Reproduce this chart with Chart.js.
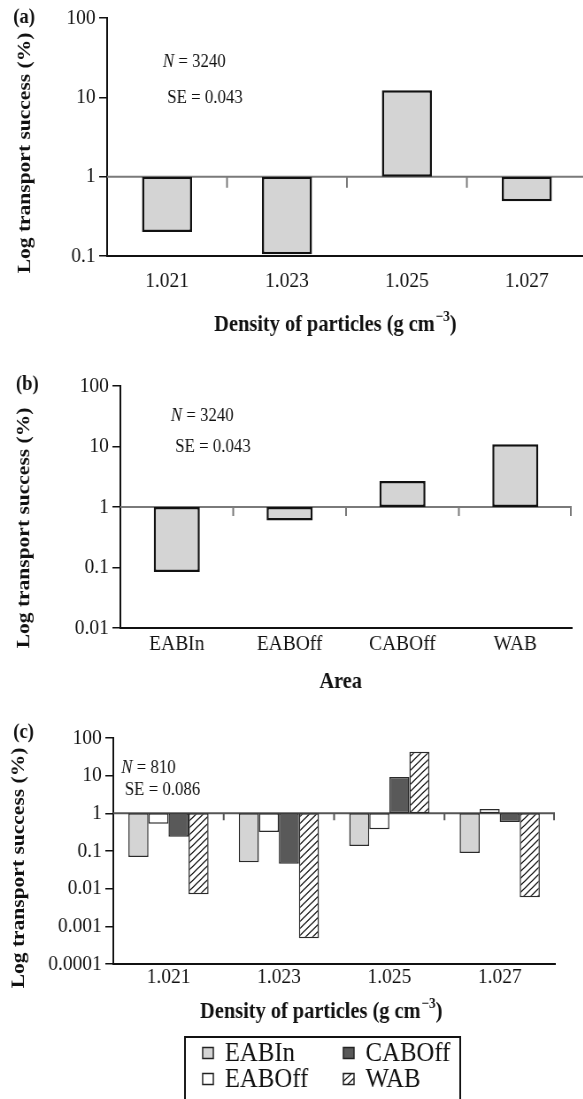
<!DOCTYPE html>
<html>
<head>
<meta charset="utf-8">
<script src="https://cdn.jsdelivr.net/npm/chart.js@4.4.1/dist/chart.umd.min.js"></script>
<style>
  html, body { margin: 0; padding: 0; background: #fff; width: 583px; height: 1099px; overflow: hidden; }
  /* the printed figure is a little narrow, so each panel is squeezed sideways */
  .panel { position: absolute; left: 0; transform: scaleX(0.885); transform-origin: 0 0; }
</style>
</head>
<body>
<div class="panel" style="top:0"><canvas id="chartA" width="680" height="345"></canvas></div>
<div class="panel" style="top:345px"><canvas id="chartB" width="680" height="355"></canvas></div>
<div class="panel" style="top:700px"><canvas id="chartC" width="680" height="399"></canvas></div>
<script>
// Transport success (%) by particle density and by area, drawn from 1 on a log axis
const densities = ['1.021', '1.023', '1.025', '1.027'];
const areas = ['EABIn', 'EABOff', 'CABOff', 'WAB'];

const successByDensity = [0.2, 0.105, 12.3, 0.49];
const successByArea = [0.084, 0.6, 2.7, 10.9];

// panel (c): one series per area, grouped by density
const eabIn = [0.069, 0.05, 0.135, 0.088];
const eabOff = [0.53, 0.32, 0.38, 1.3];
const cabOff = [0.24, 0.046, 9.2, 0.59];
const wab = [0.0071, 0.00048, 43, 0.0059];

const ticksA = [0.1, 1, 10, 100];
const ticksB = [0.01, 0.1, 1, 10, 100];
const ticksC = [0.0001, 0.001, 0.01, 0.1, 1, 10, 100];

const sampleSizes = [3240, 3240, 810];
const standardErrors = ['0.043', '0.043', '0.086'];

const SERIF = '"Liberation Serif", "Times New Roman", serif';
const INK = '#111';

// bars hang from 1, so each one is a floating [1, value] pair
const fromOne = vals => vals.map(v => [1, v]);

function hatch() {
    const c = document.createElement('canvas');
    c.width = 8; c.height = 7;
    const g = c.getContext('2d');
    g.fillStyle = '#fff';
    g.fillRect(0, 0, 8, 7);
    g.strokeStyle = INK;
    g.lineWidth = 1.3;
    g.beginPath();
    for (const k of [-1, 0, 1]) {
        g.moveTo(k * 8 - 1, 7 + 7 / 8);
        g.lineTo(k * 8 + 9, -7 / 8);
    }
    g.stroke();
    return g.createPattern(c, 'repeat');
}

function logAxis(ticks, width) {
    return {
        type: 'logarithmic',
        min: ticks[0],
        max: ticks[ticks.length - 1],
        afterBuildTicks: s => { s.ticks = ticks.map(v => ({ value: v })); },
        afterFit: s => { s.width = width; },
        ticks: { font: { family: SERIF, size: 22 }, color: INK, padding: 4, autoSkip: false, callback: v => String(v) },
        grid: { drawOnChartArea: false, color: INK, lineWidth: 1.5, tickLength: 9 },
        border: { color: INK, width: 2 }
    };
}

function catAxis(height, pad) {
    return {
        type: 'category',
        offset: true,
        afterFit: s => { s.height = height; },
        ticks: { font: { family: SERIF, size: 22, lineHeight: 1 }, color: INK, padding: pad, maxRotation: 0, autoSkip: false },
        grid: { display: true, drawOnChartArea: false, drawTicks: false },
        border: { color: INK, width: 2 }
    };
}

// line at 1 with small marks between the categories
const baseline = {
    id: 'baseline',
    beforeDatasetsDraw(chart, args, o) {
        const { ctx, chartArea, scales: { x, y } } = chart;
        const py = y.getPixelForValue(1);
        const n = x.ticks.length;
        ctx.save();
        ctx.strokeStyle = o.color;
        ctx.lineWidth = 2;
        ctx.beginPath();
        ctx.moveTo(chartArea.left, py);
        ctx.lineTo(chartArea.right, py);
        for (let i = 1; i <= n; i++) {
            const px = i < n ? (x.getPixelForTick(i - 1) + x.getPixelForTick(i)) / 2 : chartArea.right - 1;
            ctx.moveTo(px, py);
            ctx.lineTo(px, py + o.tick);
        }
        ctx.stroke();
        ctx.restore();
    }
};

// panel letter, N / SE note and the two axis titles
const panelText = {
    id: 'panelText',
    afterDraw(chart, args, o) {
        const ctx = chart.ctx;
        ctx.save();
        ctx.fillStyle = INK;
        ctx.textBaseline = 'middle';
        ctx.textAlign = 'left';

        ctx.font = `bold 21px ${SERIF}`;
        ctx.fillText(o.letter, o.letterAt[0], o.letterAt[1]);

        ctx.font = `italic 19px ${SERIF}`;
        ctx.fillText('N', o.nAt[0], o.nAt[1]);
        const nw = ctx.measureText('N').width;
        ctx.font = `19px ${SERIF}`;
        ctx.fillText(' = ' + o.n, o.nAt[0] + nw, o.nAt[1]);
        ctx.fillText('SE = ' + o.se, o.seAt[0], o.seAt[1]);

        // x title, with an optional superscript part
        const [main, sup, tail] = o.xTitle;
        ctx.font = `bold 23px ${SERIF}`;
        const wMain = ctx.measureText(main).width;
        const wTail = tail ? ctx.measureText(tail).width : 0;
        ctx.font = `bold 15px ${SERIF}`;
        const wSup = sup ? ctx.measureText(sup).width + 1 : 0;
        let tx = o.xTitleAt[0] - (wMain + wSup + wTail) / 2;
        const ty = o.xTitleAt[1];
        ctx.font = `bold 23px ${SERIF}`;
        ctx.fillText(main, tx, ty);
        tx += wMain;
        if (sup) {
            ctx.font = `bold 15px ${SERIF}`;
            ctx.fillText(sup, tx + 1, ty - 8);
            tx += wSup;
            ctx.font = `bold 23px ${SERIF}`;
            ctx.fillText(tail, tx, ty);
        }

        ctx.translate(o.yTitleAt[0], o.yTitleAt[1]);
        ctx.rotate(-Math.PI / 2);
        ctx.textAlign = 'center';
        ctx.font = `bold 21.5px ${SERIF}`;
        ctx.fillText('Log transport success (%)', 0, 0);
        ctx.restore();
    }
};

// boxed two-column legend under panel (c)
const boxLegend = {
    id: 'boxLegend',
    afterDraw(chart, args, o) {
        const ctx = chart.ctx;
        ctx.save();
        ctx.strokeStyle = INK;
        ctx.lineWidth = 2;
        ctx.strokeRect(o.left, o.top, o.width, o.height);
        ctx.font = `28px ${SERIF}`;
        ctx.textBaseline = 'middle';
        ctx.textAlign = 'left';
        chart.data.datasets.forEach((ds, i) => {
            const col = Math.floor(i / 2), row = i % 2;
            const x = o.left + o.inset + col * o.colGap;
            const y = o.top + o.rows[row];
            ctx.fillStyle = ds.backgroundColor;
            ctx.fillRect(x, y - 5.5, 12, 11);
            ctx.strokeStyle = '#222';
            ctx.lineWidth = 1.5;
            ctx.strokeRect(x, y - 5.5, 12, 11);
            ctx.fillStyle = INK;
            ctx.fillText(ds.label, x + 25, y + 1);
        });
        ctx.restore();
    }
};

const common = {
    responsive: false,
    animation: false,
    events: [],
    plugins: { legend: { display: false }, tooltip: { enabled: false } }
};

new Chart(document.getElementById('chartA'), {
    type: 'bar',
    data: {
        labels: densities,
        datasets: [{
            data: fromOne(successByDensity),
            backgroundColor: '#d4d4d4',
            borderColor: INK,
            borderWidth: 2.5,
            borderSkipped: false,
            barPercentage: 0.417,
            categoryPercentage: 1
        }]
    },
    options: {
        ...common,
        layout: { padding: { left: 0, right: 17, top: 18, bottom: 0 } },
        scales: { x: catAxis(89, 14), y: logAxis(ticksA, 121) },
        plugins: {
            ...common.plugins,
            baseline: { color: '#7a7a7a', tick: 11 },
            panelText: {
                letter: '(a)', letterAt: [15, 18],
                n: sampleSizes[0], nAt: [184, 62], se: standardErrors[0], seAt: [189, 98],
                xTitle: ['Density of particles (g cm', '\u22123', ')'], xTitleAt: [379, 325],
                yTitleAt: [28, 153]
            }
        }
    },
    plugins: [baseline, panelText]
});

new Chart(document.getElementById('chartB'), {
    type: 'bar',
    data: {
        labels: areas,
        datasets: [{
            data: fromOne(successByArea),
            backgroundColor: '#d4d4d4',
            borderColor: INK,
            borderWidth: 2.5,
            borderSkipped: false,
            barPercentage: 0.408,
            categoryPercentage: 1
        }]
    },
    options: {
        ...common,
        layout: { padding: { left: 0, right: 34, top: 41, bottom: 0 } },
        scales: { x: catAxis(72, 5), y: logAxis(ticksB, 136) },
        plugins: {
            ...common.plugins,
            baseline: { color: '#7a7a7a', tick: 9 },
            panelText: {
                letter: '(b)', letterAt: [18, 40],
                n: sampleSizes[1], nAt: [193, 71], se: standardErrors[1], seAt: [198, 102],
                xTitle: ['Area'], xTitleAt: [385, 337],
                yTitleAt: [27, 183]
            }
        }
    },
    plugins: [baseline, panelText]
});

const wabFill = hatch();

new Chart(document.getElementById('chartC'), {
    type: 'bar',
    data: {
        labels: densities,
        datasets: [
            { label: 'EABIn', data: fromOne(eabIn), backgroundColor: '#d4d4d4' },
            { label: 'EABOff', data: fromOne(eabOff), backgroundColor: '#ffffff' },
            { label: 'CABOff', data: fromOne(cabOff), backgroundColor: '#595959' },
            { label: 'WAB', data: fromOne(wab), backgroundColor: wabFill }
        ].map(ds => ({ ...ds, borderColor: '#2a2a2a', borderWidth: 1.5, borderSkipped: false, barPercentage: 1, categoryPercentage: 0.726 }))
    },
    options: {
        ...common,
        layout: { padding: { left: 0, right: 53, top: 38, bottom: 0 } },
        scales: { x: catAxis(135, 2), y: logAxis(ticksC, 128) },
        plugins: {
            ...common.plugins,
            baseline: { color: '#555', tick: 7 },
            panelText: {
                letter: '(c)', letterAt: [15, 33],
                n: sampleSizes[2], nAt: [137, 68], se: standardErrors[2], seAt: [141, 90],
                xTitle: ['Density of particles (g cm', '\u22123', ')'], xTitleAt: [363, 312],
                yTitleAt: [21, 168]
            },
            boxLegend: { left: 209, top: 337, width: 311, height: 80, inset: 20, colGap: 159, rows: [16, 42] }
        }
    },
    plugins: [baseline, panelText, boxLegend]
});
</script>
</body>
</html>
